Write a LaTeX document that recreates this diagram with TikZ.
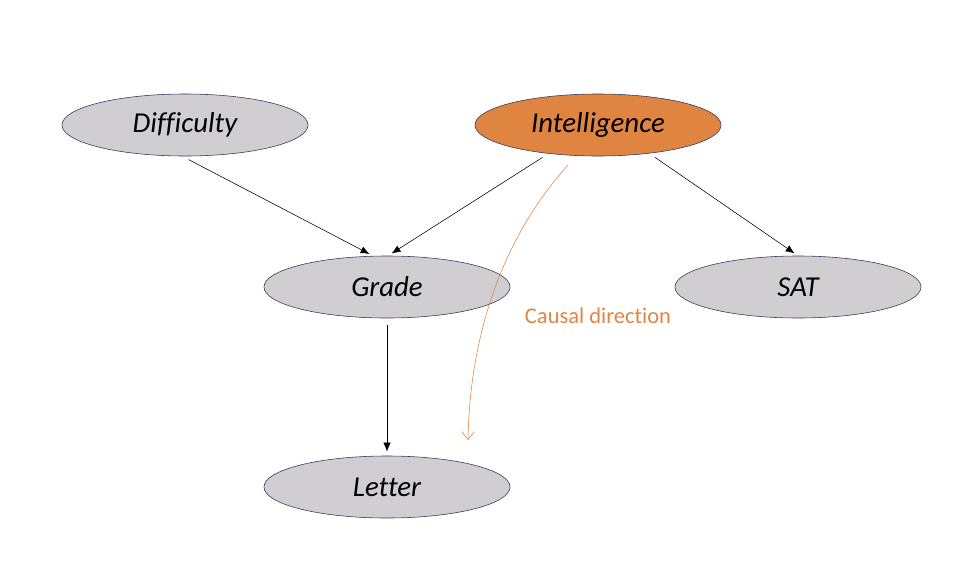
\documentclass[tikz,border=0pt]{standalone}
\usepackage{fontspec}
\setmainfont[Ligatures=CommonOff]{Carlito}
\usetikzlibrary{shapes.geometric,arrows.meta}
\definecolor{nodegray}{RGB}{208,206,208}
\definecolor{nodeorange}{RGB}{224,132,66}
\definecolor{rimblue}{RGB}{44,56,92}

\tikzset{
  var/.style={ellipse, draw=rimblue, fill=nodegray, inner sep=0pt,
    minimum width=6.15cm, minimum height=1.55cm, font=\fontsize{20.5}{22}\selectfont\itshape},
  dep/.style={-{Latex[length=2.2mm,width=1.8mm]}, shorten <=5pt, shorten >=3pt}
}

\begin{document}
\begin{tikzpicture}[x=0.025cm,y=-0.025cm]
			\useasboundingbox (0,0) rectangle (960,580);
			\node[var] (diff) at (185,125) {Difficulty};
			\node[var, fill=nodeorange] (intel) at (598,125) {Intelligence};
			\node[var] (grade) at (387,287) {Grade};
			\node[var] (sat) at (798,287) {SAT};
			\node[var] (letter) at (387,487) {Letter};
			\draw[dep] (diff.-95) -- (grade.114);
			\draw[dep] (intel.-150) -- (grade.88);
			\draw[dep] (intel.-29) -- (sat.90);
			\draw[dep] (grade.south) -- (letter.north);
			% causal direction
			\coordinate (cstart) at (568,165);
			\coordinate (cend) at (468,440);
			\draw[nodeorange, -{Straight Barb[length=2mm,width=3.2mm]}] (cstart) .. controls (505,235) and (470,330) .. (cend);
			\node[text=nodeorange, font=\fontsize{16}{18}\selectfont] (cause) at (598,316) {Causal direction};
		\end{tikzpicture}
\end{document}
